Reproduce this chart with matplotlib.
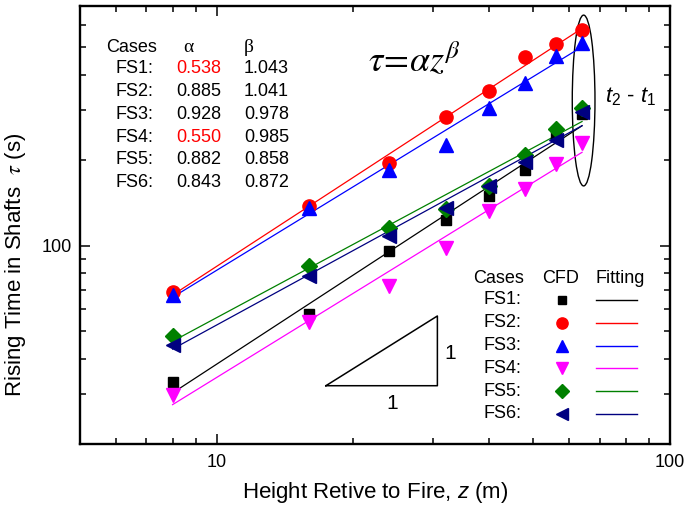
import numpy as np
import matplotlib
matplotlib.use('Agg')
import matplotlib.pyplot as plt
from matplotlib.patches import Ellipse
from matplotlib.ticker import FixedLocator, NullFormatter, FormatStrFormatter

plt.rcParams['font.family'] = 'Liberation Sans'
plt.rcParams['mathtext.fontset'] = 'custom'
plt.rcParams['mathtext.rm'] = 'Liberation Sans'
plt.rcParams['mathtext.it'] = 'Liberation Sans:italic'
plt.rcParams['mathtext.bf'] = 'Liberation Sans:bold'

# heights above the fire source (m)
z = np.array([8, 16, 24, 32, 40, 48, 56, 64])

# CFD rising times (s)
fs1 = [33.0, 57.6, 96.0, 123.5, 150.0, 185.0, 246.0, 292.0]
fs2 = [68.7, 137.6, 195.7, 284.0, 350.0, 461.0, 514.0, 578.0]
fs3 = [67.2, 135.8, 185.3, 227.0, 306.0, 376.0, 468.0, 519.0]
fs4 = [29.8, 53.8, 71.9, 98.1, 133.0, 158.0, 194.0, 231.0]
fs5 = [48.2, 84.5, 115.5, 135.0, 162.0, 209.0, 258.0, 306.0]
fs6 = [44.8, 78.4, 108.5, 136.0, 163.0, 197.0, 236.0, 295.0]

cases = ['FS1', 'FS2', 'FS3', 'FS4', 'FS5', 'FS6']
alpha = ['0.538', '0.885', '0.928', '0.550', '0.882', '0.843']
beta = [1.043, 1.041, 0.978, 0.985, 0.858, 0.872]
# prefactor of the fitted power law in the plotted units
fit_coef = [3.46, 7.69, 8.61, 3.55, 7.73, 7.05]

series = [fs1, fs2, fs3, fs4, fs5, fs6]
colors = ['black', '#ff0000', '#0000ff', '#ff00ff', '#008000', '#000080']
markers = ['s', 'o', '^', 'v', 'D', '<']
msizes = [7.5, 9.5, 9.5, 9.5, 8, 9.5]
alpha_colors = ['#ff0000', 'black', 'black', '#ff0000', 'black', 'black']

fig = plt.figure(figsize=(6.85, 5.13), dpi=100)
ax = fig.add_axes([0.1168, 0.1345, 0.8612, 0.8538])

for y, b, c, col, m, ms in zip(series, beta, fit_coef, colors, markers, msizes):
    ax.plot(z, c * z ** b, color=col, lw=0.9, zorder=2)
    ax.plot(z, y, ls='none', marker=m, ms=ms, color=col, mec=col, zorder=3)

ax.set_xscale('log')
ax.set_yscale('log')
ax.set_xlim(5, 100)
ax.set_ylim(20, 700)

ax.xaxis.set_major_locator(FixedLocator([10, 100]))
ax.xaxis.set_minor_locator(FixedLocator([6, 7, 8, 9, 20, 30, 40, 50, 60, 70, 80, 90]))
ax.yaxis.set_major_locator(FixedLocator([100]))
ax.yaxis.set_minor_locator(FixedLocator([30, 40, 50, 60, 70, 80, 90, 200, 300, 400, 500, 600]))
ax.xaxis.set_major_formatter(FormatStrFormatter('%d'))
ax.yaxis.set_major_formatter(FormatStrFormatter('%d'))
ax.xaxis.set_minor_formatter(NullFormatter())
ax.yaxis.set_minor_formatter(NullFormatter())

ax.tick_params(which='both', direction='in', top=True, right=True, width=1.1)
ax.tick_params(which='major', length=7, labelsize=13)
ax.tick_params(which='minor', length=4.5)
ax.tick_params(axis='x', which='major', pad=7)
ax.tick_params(axis='y', which='major', pad=6)
for s in ax.spines.values():
    s.set_linewidth(1.7)

ax.set_xlabel(r'Height Retive to Fire, $z$ (m)', fontsize=16)
ax.set_ylabel(r'Rising Time in Shafts  $\tau$ (s)', fontsize=16,
              math_fontfamily='stix')
ax.xaxis.set_label_coords(0.5, -0.082)
ax.yaxis.set_label_coords(-0.088, 0.41)

# fitted parameter table
tr = ax.transAxes
ax.text(0.0441, 0.9048, 'Cases', transform=tr, fontsize=13, va='center')
ax.text(0.1831, 0.9048, 'α', transform=tr, fontsize=14, va='center', ha='center',
        family='Liberation Serif')
ax.text(0.2859, 0.9048, 'β', transform=tr, fontsize=14, va='center', ha='center',
        family='Liberation Serif')
for i, (name, a, b, ac) in enumerate(zip(cases, alpha, beta, alpha_colors)):
    yy = 0.8577 - i * 0.0523
    ax.text(0.1242, yy, name + ':', transform=tr, fontsize=13, va='center', ha='right')
    ax.text(0.1639, yy, a, transform=tr, fontsize=13, va='center', color=ac)
    ax.text(0.2780, yy, '%.3f' % b, transform=tr, fontsize=13, va='center')

ax.text(0.566, 0.850, r'$\tau\!=\!\alpha z^{\beta}$', transform=tr, fontsize=26,
        ha='center', va='baseline', math_fontfamily='stix')

# outline around the top-most points
ax.add_patch(Ellipse((0.8537, 0.7842), 0.0385, 0.390, transform=tr,
                     fill=False, ec='black', lw=1.0))
ax.text(0.8898, 0.792, r'$t_2$ - $t_1$', transform=tr, fontsize=16, va='center')

# slope-one reference triangle
tx = [17.43, 30.7, 30.7, 17.43]
ty = [32.1, 32.1, 32.1 * 30.7 / 17.43, 32.1]
ax.plot(tx, ty, color='black', lw=1.1)
ax.text(0.627, 0.207, '1', transform=tr, fontsize=15, ha='center', va='center')
ax.text(0.530, 0.093, '1', transform=tr, fontsize=15, ha='center', va='center')

# legend laid out as a small table
ax.text(0.7093, 0.3774, 'Cases', transform=tr, fontsize=13, ha='center', va='center')
ax.text(0.8141, 0.3774, 'CFD', transform=tr, fontsize=13, ha='center', va='center')
ax.text(0.9158, 0.3774, 'Fitting', transform=tr, fontsize=13, ha='center', va='center')
for i, (name, col, m, ms) in enumerate(zip(cases, colors, markers, msizes)):
    yy = 0.3288 - i * 0.052
    ax.text(0.7486, yy, name + ':', transform=tr, fontsize=13, ha='right', va='center')
    ax.plot([0.8164], [yy], transform=tr, ls='none', marker=m, ms=ms * 0.85,
            color=col, mec=col)
    ax.plot([0.874, 0.9436], [yy, yy], transform=tr, color=col, lw=1.0)

fig.savefig('out.png', dpi=100)
